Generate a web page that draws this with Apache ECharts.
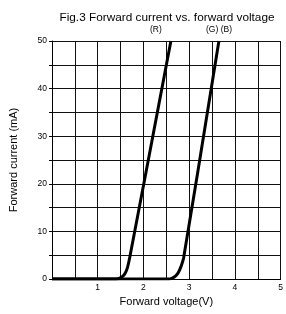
<!DOCTYPE html>
<html lang="en">
<head>
    <meta charset="UTF-8">
    <title>Forward current vs. forward voltage</title>
    <style>
        html, body { margin: 0; padding: 0; background: #fff; }
    </style>
</head>
<body>
<div id="main" style="width: 286px;height:314px;"></div>

<script src="https://cdn.jsdelivr.net/npm/echarts@6/dist/echarts.min.js"></script>
<script>
    // [voltage (V), current (mA)]
    var redCurve = [[0, 0], [1.4, 0], [1.48, 0.2], [1.55, 0.6], [1.6, 1.2], [1.65, 2.4], [1.7, 4.5], [2.6, 50]];
    var greenBlueCurve = [[0, 0], [2.55, 0], [2.63, 0.2], [2.7, 0.6], [2.76, 1.3], [2.82, 2.6], [2.88, 4.5], [3.65, 50]];
    var xTicks = [1, 2, 3, 4, 5];
    var yTicks = [0, 10, 20, 30, 40, 50];

    var chartDom = document.getElementById('main');
    var myChart = echarts.init(chartDom);
    var option;

    var font = 'Liberation Sans, Arial, sans-serif';

    option = {
        animation: false,
        title: {
            text: 'Fig.3 Forward current vs. forward voltage',
            left: 162,
            textAlign: 'center',
            top: 7,
            textStyle: { fontSize: 11.8, fontWeight: 'normal', color: '#000', fontFamily: font }
        },
        grid: {
            left: 51.5,
            right: 1,
            top: 41,
            bottom: 35
        },
        xAxis: {
            type: 'value',
            min: 0,
            max: 5,
            interval: 0.5,
            name: 'Forward voltage(V)',
            nameLocation: 'middle',
            nameGap: 16,
            nameTextStyle: { fontSize: 11, color: '#000', fontFamily: font },
            axisLine: { show: true, lineStyle: { color: '#000', width: 1 } },
            axisTick: { show: false },
            axisLabel: {
                fontSize: 8.5, color: '#000', fontFamily: font, margin: 4,
                formatter: function (v) { return xTicks.indexOf(v) >= 0 ? String(v) : ''; }
            },
            splitLine: { show: true, lineStyle: { color: '#111', width: 1 } }
        },
        yAxis: {
            type: 'value',
            min: 0,
            max: 50,
            interval: 5,
            name: 'Forward current (mA)',
            nameLocation: 'middle',
            nameGap: 33,
            nameTextStyle: { fontSize: 11, color: '#000', fontFamily: font },
            axisLine: { show: true, lineStyle: { color: '#000', width: 1 } },
            axisTick: { show: true, length: 3, inside: false, lineStyle: { color: '#000' } },
            axisLabel: {
                fontSize: 8.5, color: '#000', fontFamily: font, margin: 5,
                formatter: function (v) { return yTicks.indexOf(v) >= 0 ? String(v) : ''; }
            },
            splitLine: { show: true, lineStyle: { color: '#111', width: 1 } }
        },
        series: [
            {
                name: 'R',
                type: 'line',
                data: redCurve,
                smooth: 0.35,
                showSymbol: false,
                clip: true,
                lineStyle: { color: '#000', width: 3 }
            },
            {
                name: 'G/B',
                type: 'line',
                data: greenBlueCurve,
                smooth: 0.35,
                showSymbol: false,
                clip: true,
                lineStyle: { color: '#000', width: 3 }
            }
        ],
        graphic: [
            {
                type: 'text', left: 150, top: 25,
                style: { text: '(R)', fontSize: 8.5, fill: '#000', fontFamily: font }
            },
            {
                type: 'text', left: 206, top: 25,
                style: { text: '(G) (B)', fontSize: 8.5, fill: '#000', fontFamily: font }
            }
        ]
    };

    option && myChart.setOption(option);
</script>
</body>
</html>
